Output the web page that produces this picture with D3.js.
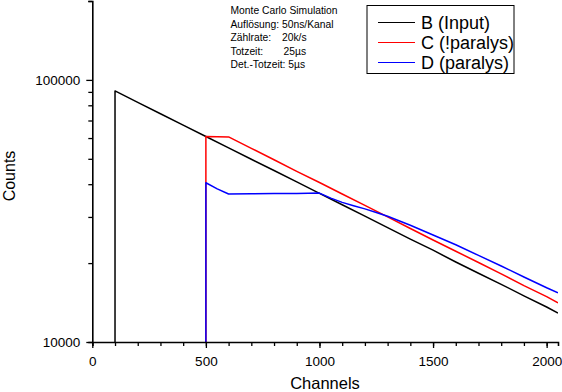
<!DOCTYPE html>
<html>
<head>
<meta charset="utf-8">
<script src="https://cdn.jsdelivr.net/npm/d3@7"></script>
<style>
  body { margin: 0; background: #fff; }
  svg { display: block; font-family: "Liberation Sans", Arial, sans-serif; }
</style>
</head>
<body>
<div id="chart"></div>
<script>
// values
const channelsB = [100, 100, 200, 300, 400, 500, 600, 700, 800, 900, 1000, 1100, 1200, 1300, 1400, 1500, 1600, 1700, 1800, 1900, 2000, 2050];
const countsB = [10000, 90800, 82100, 74300, 67200, 60800, 55000, 49800, 45100, 40800, 36900, 33400, 30200, 27300, 24700, 22400, 20200, 18300, 16600, 15000, 13600, 12900];

const channelsC = [500, 500, 550, 600, 700, 800, 900, 1000, 1100, 1200, 1300, 1400, 1500, 1600, 1700, 1800, 1900, 2000, 2050];
const countsC = [10000, 60800, 60700, 60600, 54800, 49600, 44800, 40600, 36700, 33200, 30000, 27100, 24500, 22200, 20100, 18200, 16400, 14900, 14100];

const channelsD = [500, 500, 550, 600, 700, 800, 900, 1000, 1050, 1100, 1150, 1200, 1250, 1300, 1400, 1500, 1600, 1700, 1800, 1900, 2000, 2050];
const countsD = [10000, 40500, 38400, 36700, 36800, 36900, 36900, 37000, 35400, 34100, 33100, 32200, 31200, 30200, 27900, 25600, 23500, 21400, 19500, 17700, 16100, 15400];

const seriesNames = ["B (Input)", "C (!paralys)", "D (paralys)"];
const seriesColors = ["#000000", "#ff0000", "#0000ff"];

const xTicks = [0, 500, 1000, 1500, 2000];
const yTicks = [10000, 100000];
const yTickLabels = ["10000", "100000"];

const infoLines = [
  ["Monte Carlo Simulation", ""],
  ["Auflösung: 50ns/Kanal", ""],
  ["Zählrate:", "20k/s"],
  ["Totzeit:", "25µs"],
  ["Det.-Totzeit: 5µs", ""]
];

const W = 562, H = 392;
const margin = { top: 1, right: 4, bottom: 50, left: 92.3 };

const svg = d3.select("#chart").append("svg")
  .attr("width", W)
  .attr("height", H);

const x = d3.scaleLinear()
  .domain([0, 2050])
  .range([margin.left, W - margin.right]);

const y = d3.scaleLog()
  .domain([10000, 200000])
  .range([H - margin.bottom, margin.top]);

// clip
svg.append("clipPath").attr("id", "clip")
  .append("rect")
  .attr("x", margin.left).attr("y", 0)
  .attr("width", W - margin.right - margin.left)
  .attr("height", H - margin.bottom);

const line = d3.line()
  .x(d => x(d[0]))
  .y(d => y(d[1]));

const series = [
  d3.zip(channelsB, countsB),
  d3.zip(channelsC, countsC),
  d3.zip(channelsD, countsD)
];

const plot = svg.append("g").attr("clip-path", "url(#clip)");
series.forEach((s, i) => {
  plot.append("path")
    .datum(s)
    .attr("fill", "none")
    .attr("stroke", seriesColors[i])
    .attr("stroke-width", 1.5)
    .attr("stroke-linejoin", "round")
    .attr("d", line);
});

// x axis
const xAxis = svg.append("g")
  .attr("transform", `translate(0,${H - margin.bottom})`);
xAxis.call(d3.axisBottom(x).tickValues(d3.range(0, 2001, 100)).tickSize(4).tickFormat(""))
  .call(g => g.select(".domain").attr("stroke-width", 1.6))
  .call(g => g.selectAll(".tick line").attr("stroke-width", 1.3));
xAxis.append("g")
  .call(d3.axisBottom(x).tickValues(xTicks).tickSize(6).tickPadding(8).tickFormat(d3.format("d")))
  .call(g => g.select(".domain").remove())
  .call(g => g.selectAll(".tick line").attr("stroke-width", 1.3))
  .call(g => g.selectAll("text")
    .style("font-family", "'Liberation Sans', Arial, sans-serif")
    .style("font-size", "13.5px").attr("fill", "#000"));

// y axis
const yMinor = [];
[10000, 100000].forEach(b => { for (let k = 2; k <= 9; k++) if (b * k <= 200000) yMinor.push(b * k); });
const yAxis = svg.append("g")
  .attr("transform", `translate(${margin.left},0)`);
yAxis.call(d3.axisLeft(y).tickValues(yMinor).tickSize(4).tickFormat(""))
  .call(g => g.select(".domain").attr("stroke-width", 1.6))
  .call(g => g.selectAll(".tick line").attr("stroke-width", 1.3));
yAxis.append("g")
  .call(d3.axisLeft(y).tickValues(yTicks).tickSize(6).tickPadding(6)
    .tickFormat((d, i) => yTickLabels[i]))
  .call(g => g.select(".domain").remove())
  .call(g => g.selectAll(".tick line").attr("stroke-width", 1.3))
  .call(g => g.selectAll("text")
    .style("font-family", "'Liberation Sans', Arial, sans-serif")
    .style("font-size", "13.5px").attr("fill", "#000"));

// axis titles
svg.append("text")
  .attr("x", 325).attr("y", 389)
  .attr("text-anchor", "middle")
  .attr("font-size", 16.5)
  .text("Channels");

svg.append("text")
  .attr("transform", "translate(15,176) rotate(-90)")
  .attr("text-anchor", "middle")
  .attr("font-size", 16)
  .text("Counts");

// info text
const info = svg.append("g").attr("font-size", 10.3);
infoLines.forEach((l, i) => {
  const t = info.append("text").attr("x", 230.5).attr("y", 14.4 + i * 13.4);
  t.append("tspan").text(l[0]);
  if (l[1]) t.append("tspan").attr("x", i === 2 ? 282 : 283.5).text(l[1]);
});

// legend
const legend = svg.append("g");
legend.append("rect")
  .attr("x", 367).attr("y", 5.5)
  .attr("width", 147).attr("height", 68)
  .attr("fill", "#fff").attr("stroke", "#000").attr("stroke-width", 1);
seriesNames.forEach((n, i) => {
  const cy = 22 + i * 20;
  legend.append("line")
    .attr("x1", 378).attr("x2", 415)
    .attr("y1", cy + 0.5).attr("y2", cy + 0.5)
    .attr("stroke", seriesColors[i]).attr("stroke-width", 1);
  legend.append("text")
    .attr("x", 421).attr("y", cy + 6.5)
    .attr("font-size", 18)
    .text(n);
});
</script>
</body>
</html>
